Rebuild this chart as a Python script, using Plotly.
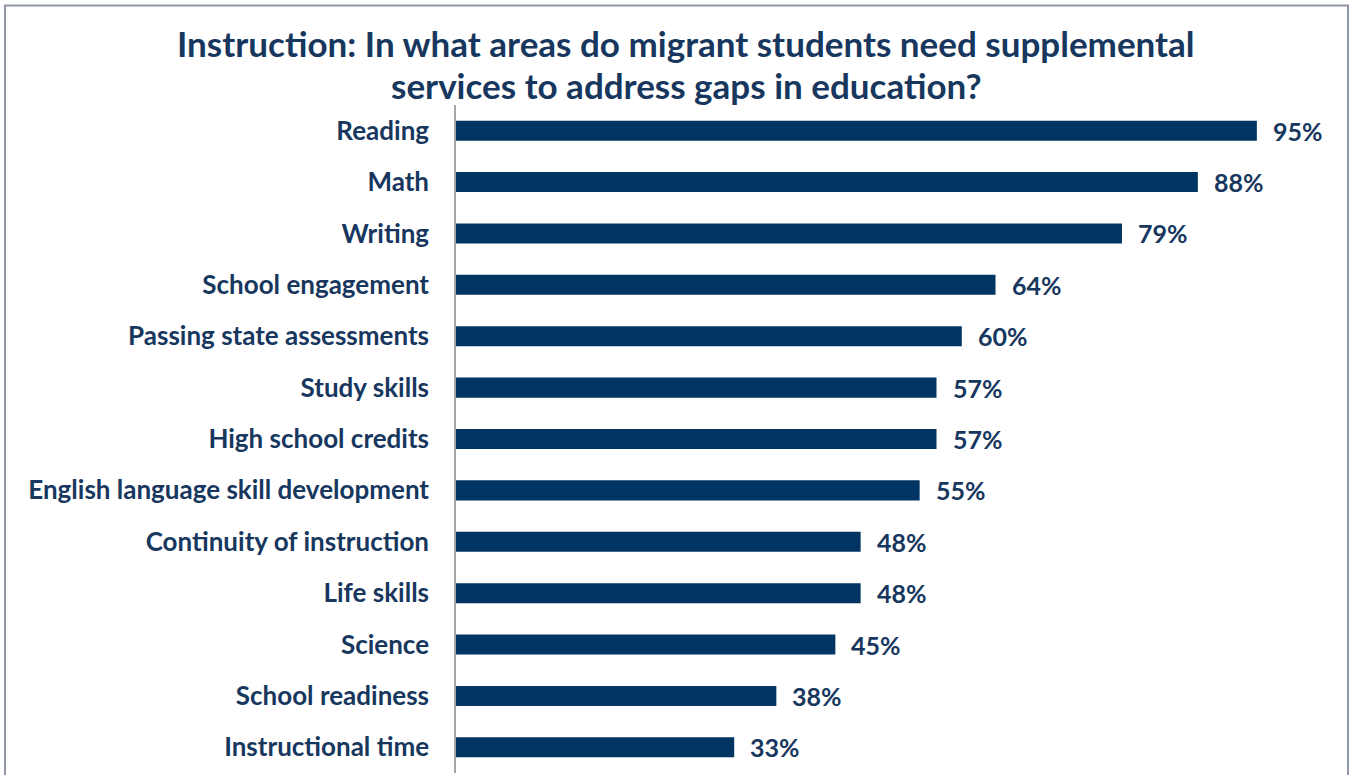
import plotly.graph_objects as go

categories = ["Reading", "Math", "Writing", "School engagement", "Passing state assessments",
              "Study skills", "High school credits", "English language skill development",
              "Continuity of instruction", "Life skills", "Science", "School readiness",
              "Instructional time"]
values = [95, 88, 79, 64, 60, 57, 57, 55, 48, 48, 45, 38, 33]
value_labels = [f"{v}%" for v in values]
title_lines = ["Instruction: In what areas do migrant students need supplemental",
               "services to address gaps in education?"]

BAR = "#003462"
TXT = "#17375E"
FONT = "Lato"

W, H = 1351, 775
L, R, T, B = 456, 52, 105, 2
pw, ph = W - L - R, H - T - B

fig = go.Figure()
fig.add_trace(go.Bar(
    x=values, y=categories, orientation="h",
    marker=dict(color=BAR, line=dict(width=0)),
    width=0.39, hoverinfo="x+y",
))

for c, v, t in zip(categories, values, value_labels):
    fig.add_annotation(x=v, y=c, text=f"<b>{t}</b>", showarrow=False,
                       xanchor="left", yanchor="middle", xshift=14,
                       font=dict(family=FONT, size=25, color=TXT))

def px_x(x):
    return (x - L) / pw

def px_y(y):
    return (H - B - y) / ph

fig.add_shape(type="rect", xref="paper", yref="paper",
              x0=px_x(5), x1=px_x(1348), y0=px_y(790), y1=px_y(5.5),
              line=dict(color="#9097A4", width=2), layer="below")

for line, yc in zip(title_lines, [43, 85]):
    fig.add_annotation(xref="paper", yref="paper", x=px_x(686), y=px_y(yc),
                       text=f"<b>{line}</b>", showarrow=False,
                       xanchor="center", yanchor="middle",
                       font=dict(family=FONT, size=35, color=TXT))

fig.update_layout(
    width=W, height=H,
    margin=dict(l=L, r=R, t=T, b=B),
    paper_bgcolor="white", plot_bgcolor="white",
    showlegend=False,
    xaxis=dict(range=[0, 100], visible=False, fixedrange=True),
    yaxis=dict(categoryorder="array", categoryarray=categories[::-1],
               range=[-0.5, len(categories) - 0.5],
               showline=True, linecolor="#A6A6A6", linewidth=1.5,
               showgrid=False, ticks="", ticklabelstandoff=20,
               tickfont=dict(family=FONT, size=26, color=TXT, weight="bold"),
               zeroline=False),
)

fig.write_html("out.html")
